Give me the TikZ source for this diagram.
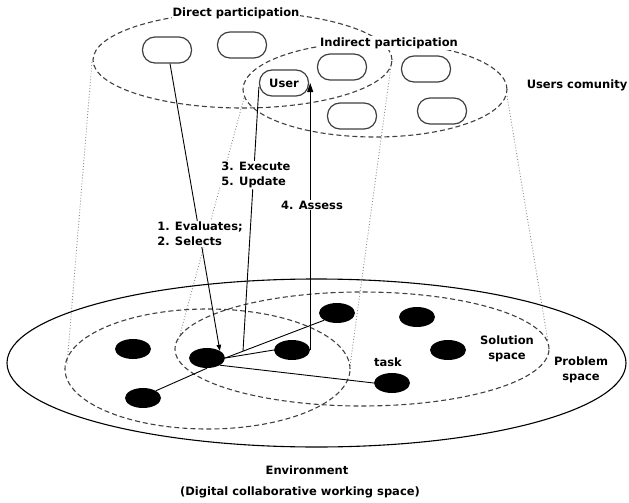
\documentclass[tikz,border=0pt]{standalone}
\usepackage{fontspec}
\setmainfont{DejaVu Sans}
\usetikzlibrary{arrows.meta,shapes.geometric,calc}

\begin{document}
\begin{tikzpicture}[x=1pt,y=-1pt,
  lbl/.style={font=\bfseries\fontsize{11.5}{15}\selectfont, inner sep=1pt},
  pill/.style={draw=black!75, fill=white, line width=1.2pt, rounded corners=12.5pt,
    minimum width=49pt, minimum height=26pt, inner sep=0pt},
  dot/.style={ellipse, fill=black, minimum width=36pt, minimum height=20pt, inner sep=0pt},
  region/.style={draw=black!75, dash pattern=on 5pt off 3pt, line width=1.1pt},
  rim/.style={draw=black!45, dotted, line width=0.9pt},
  outer/.style={draw=black, line width=1.1pt},
  link/.style={draw=black, line width=0.9pt},
  tipS/.style={-{Triangle[length=6pt,width=4.5pt]}},
  tipL/.style={-{Triangle[length=9pt,width=6pt]}}
]
\useasboundingbox (0,0) rectangle (629,503);

% cylinder rims joining the community groups to the spaces below
\draw[rim] (92,62) -- (67,365);
\draw[rim] (244,98) -- (178,342);
\draw[rim] (391,66) -- (350,366);
\draw[rim] (507,96) -- (548,342);

% environment, problem space and solution space
\draw[outer] (316.5,363) ellipse [x radius=309.5pt, y radius=84pt];
\draw[region] (207.5,369) ellipse [x radius=142.5pt, y radius=60pt];
\draw[region] (362,349) ellipse [x radius=187pt, y radius=57pt];

% direct and indirect participation groups
\draw[region] (242.5,60) ellipse [x radius=149.5pt, y radius=48pt];
\draw[region] (375,89.5) ellipse [x radius=132pt, y radius=47.5pt];

% community members
\node[pill] (p1) at (167,50) {};
\node[pill] (p2) at (242,45) {};
\node[pill, font=\bfseries\fontsize{11.5}{14}\selectfont] (user) at (284,83) {User};
\node[pill] (p4) at (342,67) {};
\node[pill] (p5) at (426,69) {};
\node[pill] (p6) at (352,116) {};
\node[pill] (p7) at (442,111) {};

% elements of the working space
\node[dot] (d1) at (133,349) {};
\node[dot] (c) at (207,358) {};
\node[dot] (bl) at (143,398) {};
\node[dot] (d4) at (292,350) {};
\node[dot] (d5) at (337,313) {};
\node[dot] (d6) at (417,317) {};
\node[dot] (d7) at (448,350) {};
\node[dot] (task) at (392,383) {};

% relations between the elements
\draw[link] (c.east) -- (d5.south west);
\draw[link] (c.east) -- (d4.west);
\draw[link] (c.south east) -- (task.west);
\draw[link] (c.south) -- (bl.north east);
\coordinate (ex) at ($(c.east)!0.18!(d5.south west)$);

% user actions
\draw[link, tipS] ([xshift=3pt]p1.south) -- (c.north east);
\draw[link] ([yshift=-4pt]user.west) -- (ex);
\draw[link, tipL] (d4.east) -- (d4.east |- user.east);

% labels
\node[lbl, fill=white, align=left] (lexec) at (256,175) {3. Execute\\5. Update};
\node[lbl, fill=white] (lassess) at (312,205) {4. Assess};
\node[lbl, fill=white, align=left] (leval) at (200,234) {1. Evaluates;\\2. Selects};
\node[lbl, fill=white] (ldirect) at (236,13) {Direct participation};
\node[lbl, fill=white] (lindirect) at (389,43) {Indirect participation};
\node[lbl] (lcom) at (577,85) {Users comunity};
\node[lbl] (ltask) at (388,362) {task};
\node[lbl, align=center] (lsol) at (507,349) {Solution\\space};
\node[lbl, align=center] (lprob) at (581,370) {Problem\\space};
\node[lbl] (lenv) at (307,470) {Environment};
\node[lbl] (ldig) at (300,492) {(Digital collaborative working space)};
\end{tikzpicture}
\end{document}
